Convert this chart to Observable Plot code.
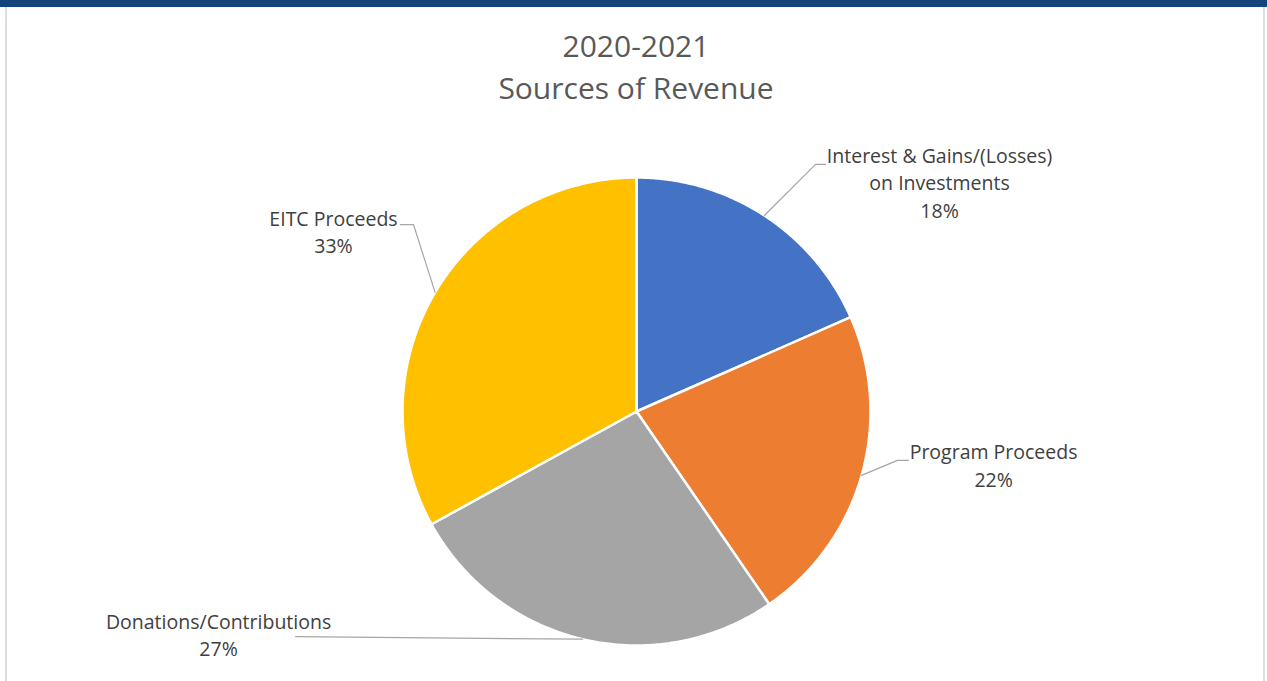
<!DOCTYPE html>
<html>
<head>
<meta charset="utf-8">
<script src="https://cdn.jsdelivr.net/npm/d3@7"></script>
<script src="https://cdn.jsdelivr.net/npm/@observablehq/plot@0.6"></script>
<style>
  html, body { margin: 0; padding: 0; background: #fff; }
  body { width: 1267px; height: 681px; overflow: hidden; position: relative; font-family: "Open Sans", sans-serif; }
  #bar { position: absolute; left: 0; top: 0; width: 1267px; height: 7px; background: #12457A; }
  #frame { position: absolute; left: 5px; top: 7px; width: 1256px; height: 674px; border-left: 2px solid #dedede; border-right: 2px solid #dedede; }
  #title { position: absolute; left: 0; top: 7px; width: 1272px; padding-top: 18px; text-align: center; color: #595959; font-size: 30px; line-height: 42px; }
  #chart { position: absolute; left: 0; top: 109px; }
</style>
</head>
<body>
<div id="bar"></div>
<div id="frame"></div>
<div id="title">2020-2021<br>Sources of Revenue</div>
<div id="chart"></div>
<script>
// ---- data ----
const categories = ["Interest & Gains/(Losses) on Investments", "Program Proceeds", "Donations/Contributions", "EITC Proceeds"];
const labelLines = ["Interest & Gains/(Losses)\non Investments", "Program Proceeds", "Donations/Contributions", "EITC Proceeds"];
const shares = [18.4, 22.0, 26.6, 33.0];
const colors = ["#4472C4", "#ED7D31", "#A5A5A5", "#FFC000"];

// ---- label layout (pie units, radius = 1, y up) ----
const labelLayout = [
  {x: 1.295, y: 0.983, elbow: [0.765, 1.056], end: [0.808, 1.056]},
  {x: 1.526, y: -0.226, elbow: [1.115, -0.209], end: [1.162, -0.209]},
  {x: -1.786, y: -0.949, elbow: [-1.457, -0.962], end: [-1.457, -0.962]},
  {x: -1.295, y: 0.772, elbow: [-0.953, 0.799], end: [-1.009, 0.799]}
];

const arcs = d3.pie().sort(null).value(d => d)(shares);
const total = d3.sum(shares);

// slice polygons
const slicePts = [];
arcs.forEach((a, i) => {
  const name = categories[i];
  slicePts.push({name, x: 0, y: 0});
  const n = Math.max(2, Math.ceil((a.endAngle - a.startAngle) / (Math.PI / 360)));
  for (let k = 0; k <= n; k++) {
    const t = a.startAngle + (a.endAngle - a.startAngle) * k / n;
    slicePts.push({name, x: Math.sin(t), y: Math.cos(t)});
  }
  slicePts.push({name, x: 0, y: 0});
});

// leader lines
const leaderPts = [];
arcs.forEach((a, i) => {
  const name = categories[i];
  const m = (a.startAngle + a.endAngle) / 2;
  const L = labelLayout[i];
  leaderPts.push({name, x: Math.sin(m), y: Math.cos(m)});
  leaderPts.push({name, x: L.elbow[0], y: L.elbow[1]});
  leaderPts.push({name, x: L.end[0], y: L.end[1]});
});

const labels = arcs.map((a, i) => ({
  name: categories[i],
  text: labelLines[i] + "\n" + Math.round(shares[i] / total * 100) + "%",
  x: labelLayout[i].x,
  y: labelLayout[i].y
}));

const cx = 636, cy = 302, R = 234;

const chart = Plot.plot({
  width: 1267,
  height: 572,
  margin: 0,
  x: {domain: [-1, 1], range: [cx - R, cx + R], axis: null},
  y: {domain: [-1, 1], range: [cy + R, cy - R], axis: null},
  color: {domain: categories, range: colors},
  style: {fontFamily: "'Open Sans', sans-serif", background: "transparent"},
  marks: [
    Plot.line(slicePts, {x: "x", y: "y", z: "name", fill: "name", stroke: "white", strokeWidth: 2.5, strokeLinejoin: "round", curve: "linear"}),
    Plot.line(leaderPts, {x: "x", y: "y", z: "name", stroke: "#A6A6A6", strokeWidth: 1.2, curve: "linear"}),
    Plot.text(labels, {x: "x", y: "y", text: "text", fill: "#404040", fontSize: 19.5, lineHeight: 1.41, lineAnchor: "middle", textAnchor: "middle"})
  ]
});
document.getElementById("chart").appendChild(chart);
</script>
</body>
</html>
